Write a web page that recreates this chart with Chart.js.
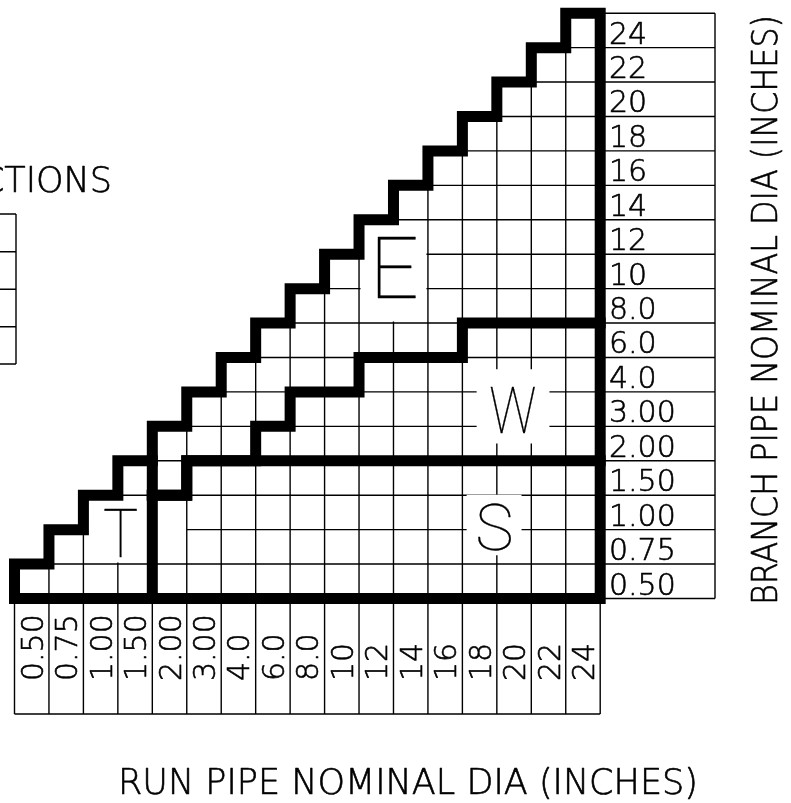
<!DOCTYPE html>
<html>
<head>
<meta charset="utf-8">
<script src="https://cdn.jsdelivr.net/npm/chart.js@4.4.1/dist/chart.umd.min.js"></script>
<style>html,body{margin:0;padding:0;background:#fff}canvas{display:block}</style>
</head>
<body>
<canvas id="c" width="791" height="803"></canvas>
<script>
// ---------------- data ----------------
const runSizes    = ['0.50','0.75','1.00','1.50','2.00','3.00','4.0','6.0','8.0','10','12','14','16','18','20','22','24'];
const branchSizes = ['0.50','0.75','1.00','1.50','2.00','3.00','4.0','6.0','8.0','10','12','14','16','18','20','22','24'];
// top row boundary of the chart outline for each run size column (branch <= run)
const outlineTop    = [1,2,3,4,5,6,7,8,9,10,11,12,13,14,15,16,17];
// tee region: run columns before this index, up to the outline
const teeRegionEndCol = 4;
// row boundary where the S region ends, per run column
const sRegionTop    = [null,null,null,null,3,4,4,4,4,4,4,4,4,4,4,4,4];
// row boundary where the E region starts, per run column
const eRegionStart  = [null,null,null,null,3,4,4,5,6,6,7,7,7,8,8,8,8];
const regionLetters = ['T','S','W','E'];
// grid segments not drawn (merged cell): horizontal boundary `row` inside column `col`
const omittedGrid   = [{col:4,row:2}];
const xTitle = 'RUN PIPE NOMINAL DIA (INCHES)';
const yTitle = 'BRANCH PIPE NOMINAL DIA (INCHES)';
const legendTitle = 'BRANCH CONNECTIONS';

// ---------------- layout / style ----------------
const FONT = '"DejaVu Sans"';
const W8 = 200;
const LETTER_FONT = 'Roboto';
const LETTER_W8 = 100;
const letterLayout = {
  T:{cx:3.08,  cy:1.89, cap:47, w:33, gap:[2,4,1,3]},
  S:{cx:13.93, cy:2.08, cap:46, w:33, gap:[13.08,14.76,1.21,3.06]},
  W:{cx:14.46, cy:5.47, cap:46, w:45, gap:[13.37,15.57,4.46,6.70]},
  E:{cx:11.02, cy:9.60, cap:60, w:38, gap:[10,12,8,11]}
};
const THICK = 11, THIN = 1.4;

function stepPoints(arr){
  const pts=[]; let prev=null;
  for(let c=0;c<arr.length;c++){
    const v=arr[c]; if(v==null) continue;
    if(!pts.length) pts.push({x:c,y:v});
    else if(v!==prev){ pts.push({x:c,y:prev}); pts.push({x:c,y:v}); }
    prev=v;
  }
  pts.push({x:arr.length,y:prev});
  return pts;
}
const nCols = runSizes.length, nRows = branchSizes.length;
const outlinePts = [{x:0,y:0}, ...stepPoints(outlineTop), {x:nCols,y:0}, {x:0,y:0}];
const teePts = [{x:teeRegionEndCol,y:0},{x:teeRegionEndCol,y:outlineTop[teeRegionEndCol-1]}];
const sPts = stepPoints(sRegionTop);
const ePts = stepPoints(eRegionStart);

function thickDS(data){
  return {data, showLine:true, borderColor:'#000', backgroundColor:'#000', borderWidth:THICK,
    pointRadius:0, pointHoverRadius:0, fill:false, tension:0, clip:false,
    borderJoinStyle:'miter', borderCapStyle:'square'};
}

function txt(ctx, s, x, y, size, opt={}){
  ctx.save();
  ctx.font = (opt.weight||W8)+' '+size+'px '+(opt.font||FONT);
  const m = ctx.measureText(s);
  const inkW = (m.actualBoundingBoxRight!==undefined) ? (m.actualBoundingBoxRight + m.actualBoundingBoxLeft) : m.width;
  const sx = opt.width ? opt.width/(opt.ink?inkW:m.width) : 1;
  ctx.translate(x,y);
  if(opt.rot) ctx.rotate(opt.rot);
  ctx.scale(sx,1);
  ctx.textAlign = opt.align||'left';
  ctx.textBaseline = 'alphabetic';
  ctx.fillStyle = '#000';
  ctx.fillText(s,0,0);
  const sw = opt.stroke===undefined ? 0.6 : opt.stroke;
  if(sw>0){ ctx.strokeStyle='#000'; ctx.lineWidth=sw; ctx.lineJoin='round'; ctx.strokeText(s,0,0); }
  ctx.restore();
}

const gridPlugin = {
  id:'pipeGrid',
  beforeDatasetsDraw(chart){
    const {ctx} = chart, xs=chart.scales.x, ys=chart.scales.y;
    const X=v=>xs.getPixelForValue(v), Y=v=>ys.getPixelForValue(v);
    ctx.save();
    ctx.beginPath();
    ctx.rect(0,0,chart.width,chart.height);
    for(const L of regionLetters){
      const g=letterLayout[L].gap;
      ctx.rect(X(g[0])+1.5, Y(g[3])+1.5, X(g[1])-X(g[0])-3, Y(g[2])-Y(g[3])-3);
    }
    ctx.clip('evenodd');
    ctx.strokeStyle='#000'; ctx.lineWidth=THIN; ctx.lineCap='butt';
    ctx.beginPath();
    for(let k=1;k<nCols;k++){ ctx.moveTo(X(k),Y(0)); ctx.lineTo(X(k),Y(outlineTop[k-1])); }
    for(let j=1;j<nRows;j++){
      for(let c=0;c<nCols;c++){
        if(outlineTop[c]>j && !omittedGrid.some(o=>o.col===c&&o.row===j)){
          ctx.moveTo(X(c),Y(j)); ctx.lineTo(X(c+1),Y(j));
        }
      }
    }
    ctx.stroke();
    ctx.restore();
  },
  afterDraw(chart){
    const {ctx} = chart, xs=chart.scales.x, ys=chart.scales.y;
    const X=v=>xs.getPixelForValue(v), Y=v=>ys.getPixelForValue(v);
    const boxR = 715, boxB = 714;
    ctx.save();
    ctx.strokeStyle='#000'; ctx.lineWidth=THIN;
    ctx.beginPath();
    // right label boxes
    for(let j=0;j<=nRows;j++){ ctx.moveTo(X(nCols),Y(j)); ctx.lineTo(boxR,Y(j)); }
    ctx.moveTo(boxR,Y(nRows)); ctx.lineTo(boxR,Y(0));
    // bottom label boxes
    for(let k=0;k<=nCols;k++){ ctx.moveTo(X(k),Y(0)); ctx.lineTo(X(k),boxB); }
    ctx.moveTo(X(0),boxB); ctx.lineTo(X(nCols),boxB);
    // partial legend table at left
    const legY=[214,251.7,289.3,326.7,364];
    for(const y of legY){ ctx.moveTo(0,y); ctx.lineTo(16,y); }
    ctx.moveTo(16,legY[0]); ctx.lineTo(16,legY[legY.length-1]);
    ctx.stroke();
    ctx.restore();

    // tick labels
    branchSizes.forEach((s,j)=>{ txt(ctx, s, 609, Y(j)-4, 30); });
    runSizes.forEach((s,i)=>{ const cx=(X(i)+X(i+1))/2; txt(ctx, s, cx+11, 681, 30, {rot:-Math.PI/2}); });

    // region letters
    for(const L of regionLetters){
      const o=letterLayout[L];
      const size=o.cap/0.711;
      txt(ctx, L, X(o.cx), Y(o.cy)+o.cap/2, size, {align:'center', width:o.w, ink:true, font:LETTER_FONT, weight:LETTER_W8, stroke:0.3});
    }

    // titles
    txt(ctx, xTitle, 408, 794, 35, {align:'center', width:580});
    txt(ctx, yTitle, 777, 310, 35, {align:'center', width:590, rot:-Math.PI/2});
    txt(ctx, legendTitle, 112, 192, 35, {align:'right'});
  }
};

new Chart(document.getElementById('c'), {
  type:'scatter',
  data:{datasets:[thickDS(outlinePts), thickDS(teePts), thickDS(sPts), thickDS(ePts)]},
  options:{
    responsive:false, animation:false, devicePixelRatio:1,
    layout:{padding:{left:14.5, right:190.8, top:13.2, bottom:204.5}},
    plugins:{legend:{display:false}, tooltip:{enabled:false}},
    events:[],
    scales:{
      x:{type:'linear', min:0, max:nCols, display:false},
      y:{type:'linear', min:0, max:nRows, display:false}
    }
  },
  plugins:[gridPlugin]
});
</script>
</body>
</html>
